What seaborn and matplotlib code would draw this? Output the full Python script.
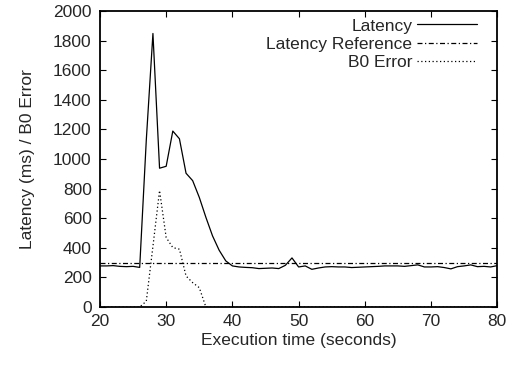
import numpy as np
import pandas as pd
import seaborn as sns
import matplotlib
matplotlib.use("Agg")
import matplotlib.pyplot as plt

# values (1 s steps)
seconds = list(range(20, 81))
latency = [278, 278, 280, 275, 273, 275, 268, 1130, 1848, 938,
           951, 1189, 1137, 904, 854, 741, 606, 481, 384, 312,
           278, 271, 268, 266, 260, 262, 264, 260, 282, 332,
           271, 278, 255, 264, 271, 273, 271, 271, 267, 269,
           271, 273, 275, 278, 278, 278, 275, 280, 285, 271,
           271, 273, 267, 258, 273, 278, 285, 273, 275, 271,
           280]
latency_ref = [300] * len(seconds)
b0_error = [0, 0, 0, 0, 0, 0, 0, 40, 410, 787,
            470, 402, 391, 210, 165, 131, 0] + [0] * 44

df = pd.DataFrame({"t": seconds, "Latency": latency,
                   "Latency Reference": latency_ref, "B0 Error": b0_error})

sns.set_style("ticks")
plt.rcParams["font.family"] = ["Liberation Sans", "DejaVu Sans"]
fs = 12.5

fig = plt.figure(figsize=(5.1, 3.66), dpi=100)
ax = fig.add_axes([0.196, 0.161, 0.779, 0.809])

styles = {"Latency": None, "Latency Reference": (4, 2, 1, 2), "B0 Error": (1, 2)}
for name, dash in styles.items():
    sns.lineplot(data=df, x="t", y=name, ax=ax, color="black", linewidth=0.9,
                 label=name, zorder=1)
    if dash is not None:
        ax.lines[-1].set_dashes(dash)

ax.set_xlim(20, 80)
ax.set_ylim(0, 2000)
ax.set_xticks(range(20, 81, 10))
ax.set_yticks(range(0, 2001, 200))
ax.tick_params(direction="in", top=True, right=True, length=4, width=0.8,
               labelsize=fs, color="black")
ax.tick_params(axis="y", pad=6)
ax.tick_params(axis="x", pad=5)
for s in ax.spines.values():
    s.set_color("black")
    s.set_linewidth(1.3)
    s.set_zorder(3)

ax.set_xlabel("Execution time (seconds)", fontsize=fs, labelpad=3)
ax.set_ylabel("Latency (ms) / B0 Error", fontsize=fs, labelpad=13)

leg = ax.legend(loc="upper right", bbox_to_anchor=(0.95, 0.975), frameon=False,
                markerfirst=False, handlelength=3.5, handletextpad=0.25,
                labelspacing=0.17, borderaxespad=0, borderpad=0, fontsize=fs)

plt.savefig("out.png", dpi=100)
